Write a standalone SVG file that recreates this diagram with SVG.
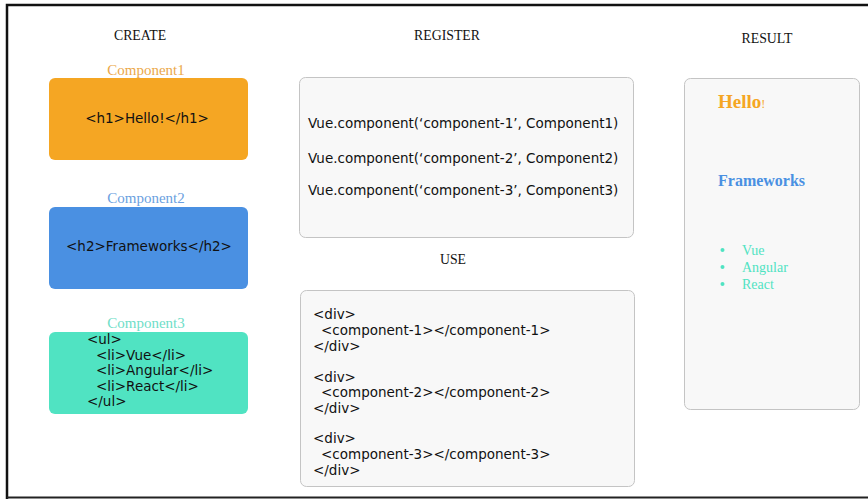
<svg xmlns="http://www.w3.org/2000/svg" width="868" height="499" viewBox="0 0 868 499">
<style>
.hdr{font-family:"Liberation Serif",serif;font-size:13.8px;fill:#111;text-anchor:middle}
.lbl{font-family:"Liberation Serif",serif;font-size:15px;text-anchor:middle}
.code{font-family:"DejaVu Sans","Liberation Sans",sans-serif;font-size:13.5px;fill:#111}
.panel{fill:#F8F8F8;stroke:#C4C4C4;stroke-width:1}
.res{font-family:"Liberation Serif",serif}
</style>
<rect x="0" y="0" width="868" height="499" fill="#fff"/>
<path d="M7 499 V5 H868" fill="none" stroke="#111" stroke-width="2.5"/>
<line x1="7" y1="497.5" x2="868" y2="497.5" stroke="#222" stroke-width="2"/>

<text class="hdr" x="140" y="40">CREATE</text>
<text class="hdr" x="447" y="40">REGISTER</text>
<text class="hdr" x="767" y="43">RESULT</text>
<text class="hdr" x="453" y="264">USE</text>

<g id="component1">
<text class="lbl" x="146" y="75" fill="#EBA84A">Component1</text>
<rect x="49" y="78" width="199" height="82" rx="6" fill="#F5A623"/>
<text class="code" x="147" y="123" text-anchor="middle">&lt;h1&gt;Hello!&lt;/h1&gt;</text>
</g>
<g id="component2">
<text class="lbl" x="146" y="203" fill="#6B9FE0">Component2</text>
<rect x="49" y="207" width="199" height="82" rx="6" fill="#4A90E2"/>
<text class="code" x="149" y="251" text-anchor="middle">&lt;h2&gt;Frameworks&lt;/h2&gt;</text>
</g>
<g id="component3">
<text class="lbl" x="146" y="328" fill="#6FDEC8">Component3</text>
<rect x="49" y="332" width="199" height="82" rx="6" fill="#50E3C2"/>
<text class="code" x="87" y="344">&lt;ul&gt;</text>
<text class="code" x="96" y="360">&lt;li&gt;Vue&lt;/li&gt;</text>
<text class="code" x="96" y="375">&lt;li&gt;Angular&lt;/li&gt;</text>
<text class="code" x="96" y="391">&lt;li&gt;React&lt;/li&gt;</text>
<text class="code" x="87" y="406">&lt;/ul&gt;</text>
</g>

<g id="register">
<rect class="panel" x="299.5" y="77.5" width="334" height="160" rx="6"/>
<text class="code" x="308" y="128">Vue.component(‘component-1’, Component1)</text>
<text class="code" x="308" y="163">Vue.component(‘component-2’, Component2)</text>
<text class="code" x="308" y="195">Vue.component(‘component-3’, Component3)</text>
</g>

<g id="use">
<rect class="panel" x="300.5" y="290.5" width="334" height="196" rx="6"/>
<text class="code" x="313" y="319">&lt;div&gt;</text>
<text class="code" x="321" y="335">&lt;component-1&gt;&lt;/component-1&gt;</text>
<text class="code" x="313" y="351">&lt;/div&gt;</text>
<text class="code" x="313" y="382">&lt;div&gt;</text>
<text class="code" x="321" y="397">&lt;component-2&gt;&lt;/component-2&gt;</text>
<text class="code" x="313" y="413">&lt;/div&gt;</text>
<text class="code" x="313" y="443">&lt;div&gt;</text>
<text class="code" x="321" y="459">&lt;component-3&gt;&lt;/component-3&gt;</text>
<text class="code" x="313" y="475">&lt;/div&gt;</text>
</g>

<g id="result">
<rect class="panel" x="684.5" y="78.5" width="175" height="331" rx="6"/>
<text class="res" x="718" y="108" font-size="19" font-weight="bold" fill="#F5A623">Hello<tspan font-size="12" font-weight="normal">!</tspan></text>
<text class="res" x="718" y="186" font-size="16" font-weight="bold" fill="#4A90E2">Frameworks</text>
<g fill="#50E3C2" class="res" font-size="14">
<circle cx="722.5" cy="250" r="2"/>
<circle cx="722.5" cy="267" r="2"/>
<circle cx="722.5" cy="284" r="2"/>
<text x="742" y="255">Vue</text>
<text x="742" y="272">Angular</text>
<text x="742" y="289">React</text>
</g>
</g>
</svg>
